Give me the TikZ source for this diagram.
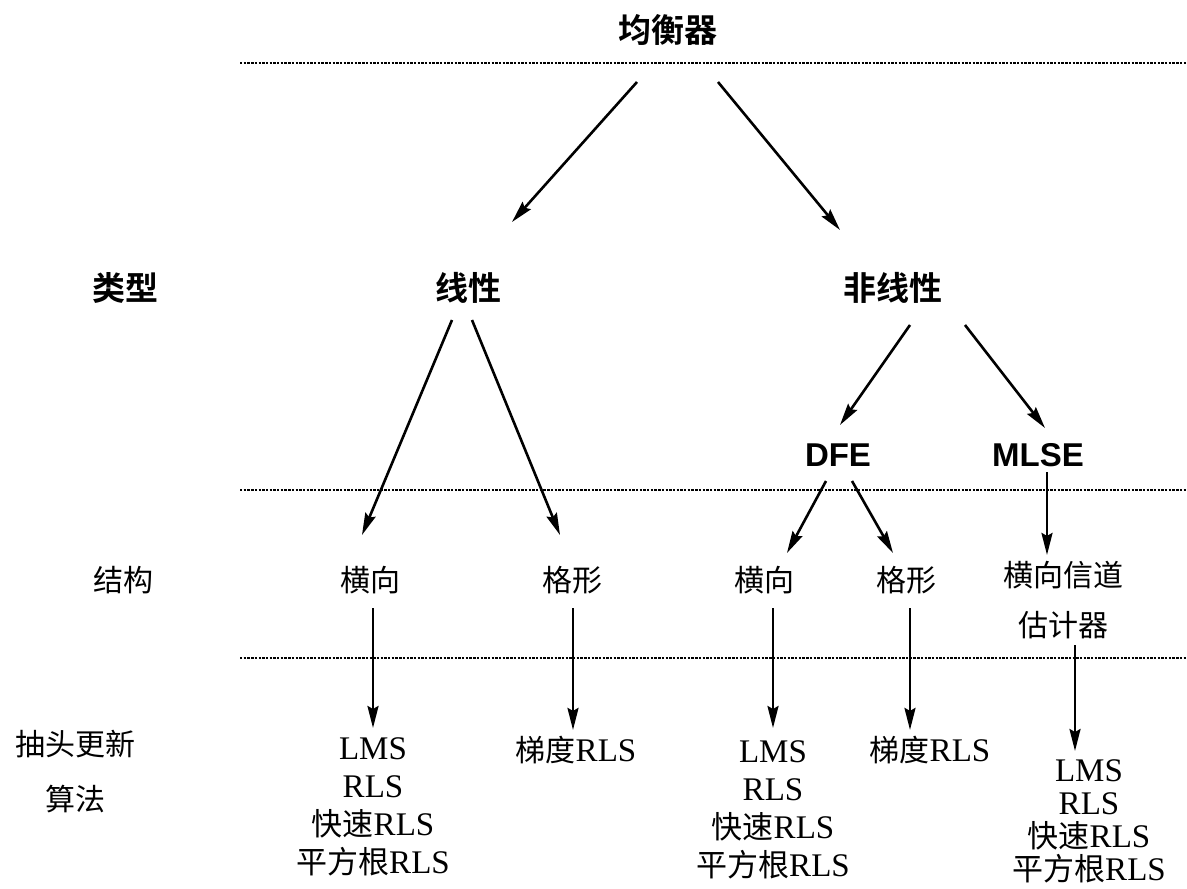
\documentclass[tikz,border=0pt]{standalone}
\usepackage{fontspec}
\setmainfont{Liberation Serif}
\setsansfont{Liberation Sans}
\newfontfamily\cjk{Noto Sans CJK SC}
\newfontfamily\cjkb{Noto Sans CJK SC Bold}
\usetikzlibrary{arrows.meta}
\begin{document}
\begin{tikzpicture}[x=1pt,y=-1pt,
  arr/.style={line width=2.6pt,-{Stealth[length=22pt,width=11pt,inset=3pt]}},
  sepline/.style={line width=2.8pt,dash pattern=on 2.4pt off 1.3pt},
  top/.style={inner sep=0pt,font={\fontsize{33}{38}\selectfont\cjkb}},
  latb/.style={inner sep=0pt,font={\fontsize{33}{38}\selectfont\sffamily\bfseries}},
  low/.style={inner sep=0pt,font={\fontsize{30}{36}\selectfont\cjk}},
  stack/.style={inner sep=0pt,align=center,anchor=north,font={\fontsize{33}{38}\selectfont}},
]
\useasboundingbox (0,0) rectangle (1187,889);
% separators
\coordinate (l1a) at (240,63);  \coordinate (l1b) at (1187,63);
\coordinate (l2a) at (240,490); \coordinate (l2b) at (1187,490);
\coordinate (l3a) at (240,658); \coordinate (l3b) at (1187,658);
\draw[sepline] (l1a) -- (l1b);
\draw[sepline] (l2a) -- (l2b);
\draw[sepline] (l3a) -- (l3b);
% nodes
\node[top] (eq) at (668,30) {均衡器};
\node[top] (kind) at (125,288) {类型};
\node[top] (lin) at (468,288) {线性};
\node[top] (nonlin) at (893,288) {非线性};
\node[latb] (dfe) at (838,455) {DFE};
\node[latb] (mlse) at (1038,455) {MLSE};
\node[low] (struct) at (123,580) {结构};
\node[low] (h1) at (370,580) {横向};
\node[low] (g1) at (572,580) {格形};
\node[low] (h2) at (764,580) {横向};
\node[low] (g2) at (906,580) {格形};
\node[low,align=center,font={\fontsize{30}{50}\selectfont\cjk}] (chan) at (1063,600) {横向信道\\估计器};
\node[low,align=center,font={\fontsize{30}{55}\selectfont\cjk}] (algo) at (76,772) {抽头更新\\算法};
\node[stack] (a1) at (373,737) {LMS\\RLS\\{\cjk\fontsize{31}{38}\selectfont 快速}RLS\\{\cjk\fontsize{31}{38}\selectfont 平方根}RLS};
\node[inner sep=0pt,font={\fontsize{33}{38}\selectfont}] (r1) at (576,750) {{\fontsize{30}{36}\selectfont\cjk 梯度}RLS};
\node[stack] (a2) at (773,740) {LMS\\RLS\\{\cjk\fontsize{31}{38}\selectfont 快速}RLS\\{\cjk\fontsize{31}{38}\selectfont 平方根}RLS};
\node[inner sep=0pt,font={\fontsize{33}{38}\selectfont}] (r2) at (930,750) {{\fontsize{30}{36}\selectfont\cjk 梯度}RLS};
\node[stack,font={\fontsize{33}{33}\selectfont}] (a3) at (1089,759) {LMS\\RLS\\{\cjk\fontsize{31}{33}\selectfont 快速}RLS\\{\cjk\fontsize{31}{33}\selectfont 平方根}RLS};
% connectors
\draw[arr] ([shift={(-31,52)}]eq.center) -- ([shift={(44,-66)}]lin.center);
\draw[arr] ([shift={(50,52)}]eq.center) -- ([shift={(-53,-58)}]nonlin.center);
\draw[arr] ([shift={(-16,32)}]lin.center) -- ([shift={(-8,-45)}]h1.center);
\draw[arr] ([shift={(4,32)}]lin.center) -- ([shift={(-12,-45)}]g1.center);
\draw[arr] ([shift={(17,37)}]nonlin.center) -- ([shift={(2,-30)}]dfe.center);
\draw[arr] ([shift={(72,37)}]nonlin.center) -- ([shift={(7,-27)}]mlse.center);
\draw[arr] ([shift={(-12,26)}]dfe.center) -- ([shift={(23,-27)}]h2.center);
\draw[arr] ([shift={(14,26)}]dfe.center) -- ([shift={(-13,-27)}]g2.center);
\draw[arr] ([shift={(9,17)}]mlse.center) -- ([shift={(9,-6)}]chan.north -| mlse.center);
\draw[arr] ([shift={(3,28)}]h1.center) -- ([shift={(0,-9)}]a1.north);
\draw[arr] ([shift={(1,28)}]g1.center) -- ([shift={(-3,-6)}]r1.north);
\draw[arr] ([shift={(9,28)}]h2.center) -- ([shift={(0,-12)}]a2.north);
\draw[arr] ([shift={(4,28)}]g2.center) -- ([shift={(-20,-6)}]r2.north);
\draw[arr] ([shift={(12,45)}]chan.center) -- ([shift={(-14,-8)}]a3.north);
\end{tikzpicture}
\end{document}
